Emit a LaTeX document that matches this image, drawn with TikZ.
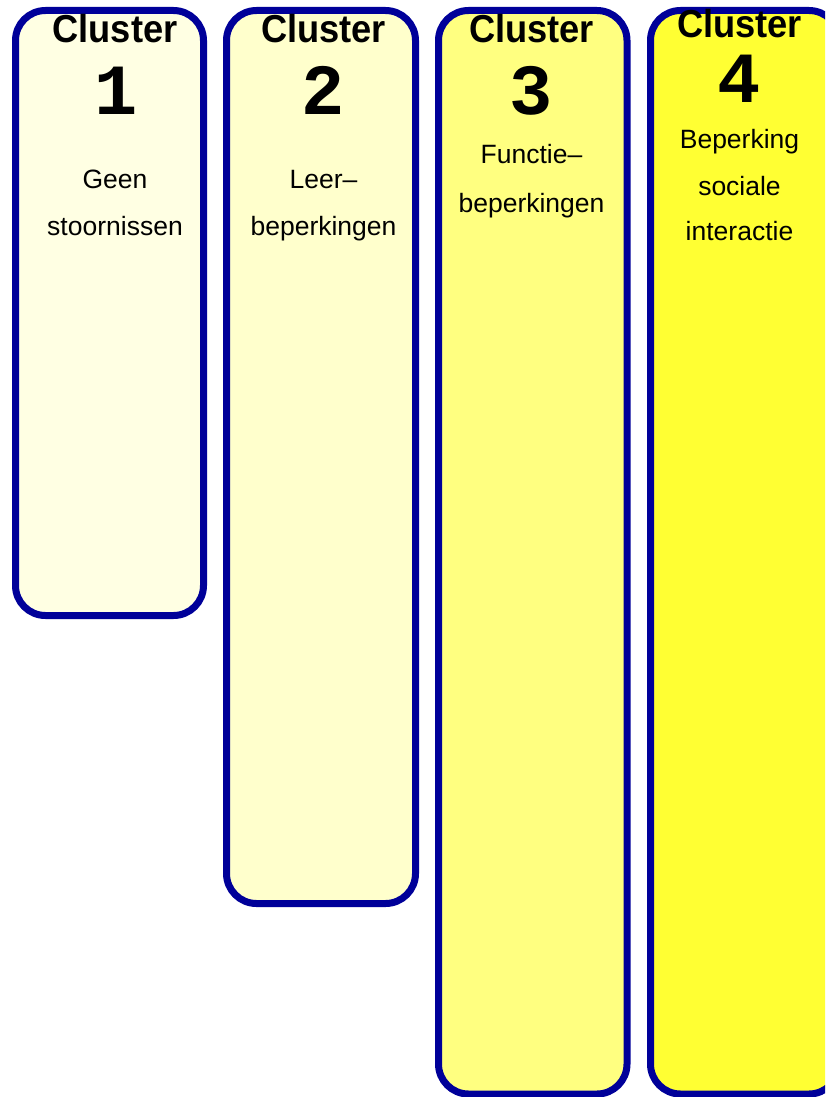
\documentclass[tikz,border=0pt]{standalone}
\usepackage{fontspec}
\setmainfont{Liberation Sans}
\newfontfamily\clusterfont[FakeStretch=0.93]{Liberation Sans}
\newfontfamily\numfont{Liberation Mono}
\definecolor{clblue}{HTML}{000099}
\definecolor{fillA}{HTML}{FFFFE3}
\definecolor{fillB}{HTML}{FFFFCC}
\definecolor{fillC}{HTML}{FFFF80}
\definecolor{fillD}{HTML}{FFFF33}
\tikzset{
  clbox/.style={draw=clblue, line width=7pt, rounded corners=30pt, inner sep=0pt, minimum width=188.5pt},
  cltitle/.style={anchor=base, inner sep=0pt, font=\clusterfont\bfseries\fontsize{39}{39}\selectfont},
  clnum/.style={anchor=base, inner sep=0pt, font=\numfont\bfseries\fontsize{72}{72}\selectfont},
  cltext/.style={anchor=base, inner sep=0pt, font=\fontsize{26.5}{26.5}\selectfont}
}
\begin{document}
\begin{tikzpicture}[x=1pt,y=-1pt]
\useasboundingbox (0,0) rectangle (825,1097);
\clip (0,0) rectangle (825,1097);
\node[clbox, fill=fillA, minimum width=188pt, minimum height=605pt] (b1) at (109.5,313) {};
\node[clbox, fill=fillB, minimum width=189pt, minimum height=893pt] (b2) at (321,457) {};
\node[clbox, fill=fillC, minimum height=1083.5pt] (b3) at (532.75,552.25) {};
\node[clbox, fill=fillD, minimum height=1083.5pt] (b4) at (744.75,552.25) {};
% cluster 1
\node[cltitle] (t1) at (115,43) {Cluster};
\node[clnum] (n1) at (116,115) {1};
\node[cltext] (a1) at (115,188) {Geen};
\node[cltext] (c1) at (115,235) {stoornissen};
% cluster 2
\node[cltitle] (t2) at (323.5,43) {Cluster};
\node[clnum] (n2) at (323.5,115) {2};
\node[cltext] (a2) at (323.5,188) {Leer–};
\node[cltext] (c2) at (323.5,235) {beperkingen};
% cluster 3
\node[cltitle] (t3) at (531.5,43) {Cluster};
\node[clnum] (n3) at (531.5,115) {3};
\node[cltext] (a3) at (531.5,163) {Functie–};
\node[cltext] (c3) at (531.5,212) {beperkingen};
% cluster 4
\node[cltitle] (t4) at (739.5,38) {Cluster};
\node[clnum] (n4) at (739.5,103) {4};
\node[cltext] (a4) at (739.5,148) {Beperking};
\node[cltext] (c4) at (739.5,195) {sociale};
\node[cltext] (d4) at (739.5,240) {interactie};
\end{tikzpicture}
\end{document}
